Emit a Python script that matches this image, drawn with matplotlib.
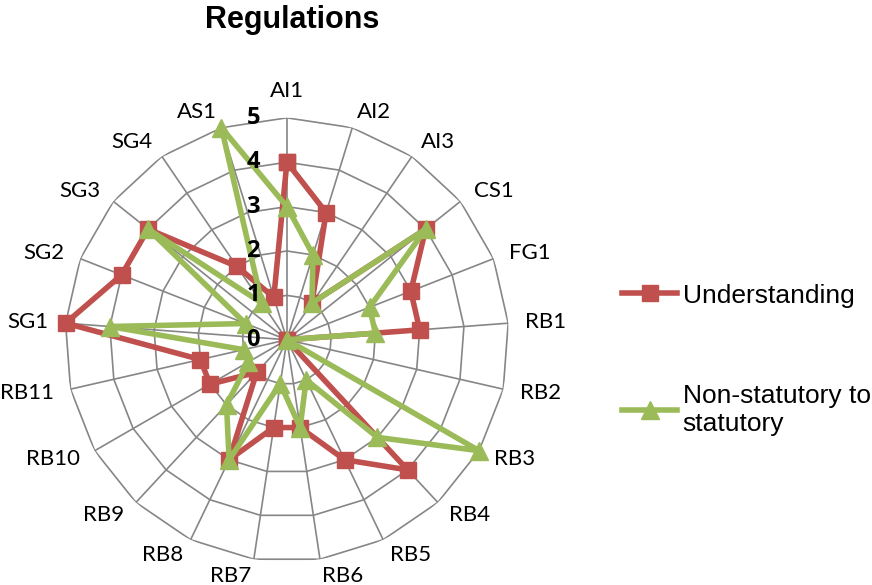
import numpy as np
import matplotlib
matplotlib.use("Agg")
import matplotlib.pyplot as plt

categories = ["AI1", "AI2", "AI3", "CS1", "FG1", "RB1", "RB2", "RB3", "RB4", "RB5",
              "RB6", "RB7", "RB8", "RB9", "RB10", "RB11", "SG1", "SG2", "SG3", "SG4", "AS1"]
understanding = [4, 3, 1, 4, 3, 3, 0, 0, 4, 3, 2, 2, 3, 1, 2, 2, 5, 4, 4, 2, 1]
non_statutory = [3, 2, 1, 4, 2, 2, 0, 5, 3, 1, 2, 1, 3, 2, 1, 1, 4, 1, 4, 1, 5]
radial_ticks = [0, 1, 2, 3, 4, 5]

RED = "#C0504D"
GREEN = "#9BBB59"
GRID = "#868686"

fig = plt.figure(figsize=(8.72, 5.85), dpi=100)
ax = fig.add_axes([0.0745, 0.0397, 0.509, 0.759], projection="polar")
ax.set_theta_zero_location("N")
ax.set_theta_direction(-1)
ax.set_ylim(0, 5)
ax.grid(False)
ax.set_xticks([])
ax.set_yticks([])
ax.spines["polar"].set_visible(False)

n = len(categories)
theta = np.arange(n) * 2 * np.pi / n
loop = np.append(theta, theta[0])

# polygon rings and spokes
for v in radial_ticks[1:]:
    ax.plot(loop, [v] * (n + 1), color=GRID, lw=1.2, zorder=1)
for t in theta:
    ax.plot([t, t], [0, radial_ticks[-1]], color=GRID, lw=1.2, zorder=1)

def closed(vals):
    return np.append(vals, vals[0])

ax.plot(loop, closed(understanding), color=RED, lw=4, marker="s", ms=11,
        label="Understanding", zorder=3, clip_on=False)
ax.plot(loop, closed(non_statutory), color=GREEN, lw=4, marker="^", ms=13,
        label="Non-statutory to\nstatutory", zorder=4, clip_on=False)

# category labels outside the outer ring
for t, name in zip(theta, categories):
    s = np.sin(t)
    if s > 0.05:
        ha = "left"
    elif s < -0.05:
        ha = "right"
    else:
        ha = "center"
    va = "bottom" if np.cos(t) > 0.99 else "center"
    ax.text(t, 5.38, name, ha=ha, va=va, fontsize=16, family="Lato")

# value labels sit on top of the series lines
for v in radial_ticks:
    ax.annotate(str(v), xy=(0, v), xytext=(-27, 0), textcoords="offset pixels",
                ha="right", va="center", fontsize=17, fontweight="bold",
                family="Open Sans", zorder=6)

fig.text(292 / 872, 1 - 20 / 585, "Regulations", ha="center", va="center",
         fontsize=22, fontweight="bold", family="Liberation Sans")

fig.legend(loc="center left", bbox_to_anchor=(622 / 872, 0.385), frameon=False,
           prop={"family": "Liberation Sans", "size": 19}, handlelength=2.1,
           handletextpad=0.2, labelspacing=2.9, borderpad=0, borderaxespad=0)

fig.savefig("out.png", dpi=100)
